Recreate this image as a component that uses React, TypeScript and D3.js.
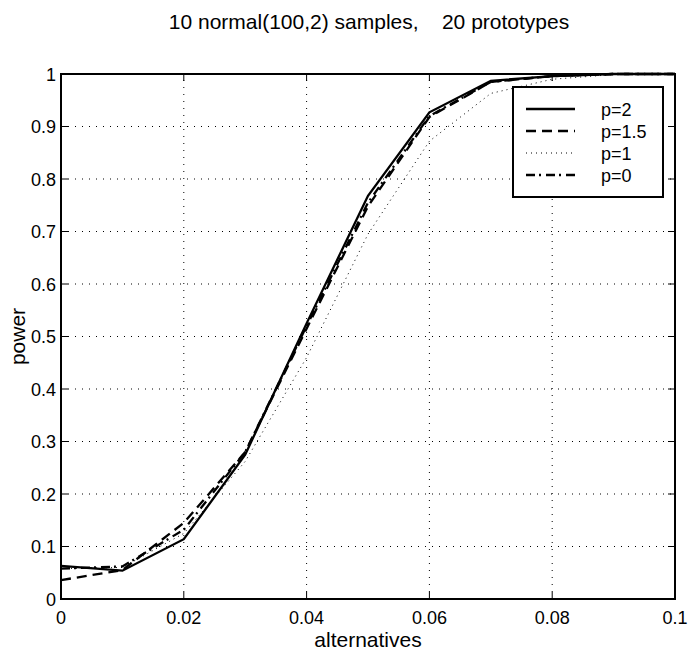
import React from "react";
import * as d3 from "d3";

const xs = [0, 0.01, 0.02, 0.03, 0.04, 0.05, 0.06, 0.07, 0.08, 0.09, 0.1];
const p2 = [0.063, 0.054, 0.114, 0.275, 0.525, 0.768, 0.927, 0.987, 0.996, 1.0, 1.0];
const p15 = [0.036, 0.055, 0.145, 0.28, 0.515, 0.748, 0.918, 0.985, 0.996, 1.0, 1.0];
const p1 = [0.058, 0.06, 0.125, 0.262, 0.46, 0.695, 0.872, 0.963, 0.99, 0.999, 1.0];
const p0 = [0.058, 0.062, 0.132, 0.28, 0.52, 0.755, 0.92, 0.985, 0.996, 1.0, 1.0];
const xTicks = [0, 0.02, 0.04, 0.06, 0.08, 0.1];
const xTickLabels = ["0", "0.02", "0.04", "0.06", "0.08", "0.1"];
const yTicks = [0, 0.1, 0.2, 0.3, 0.4, 0.5, 0.6, 0.7, 0.8, 0.9, 1];
const yTickLabels = ["0", "0.1", "0.2", "0.3", "0.4", "0.5", "0.6", "0.7", "0.8", "0.9", "1"];
const seriesNames = ["p=2", "p=1.5", "p=1", "p=0"];

const W = 691, H = 656;
const L = 61, R = 675, T = 74, B = 599;
const font = "Liberation Sans, Arial, Helvetica, sans-serif";

export default function App() {
  const x = d3.scaleLinear().domain([0, 0.1]).range([L, R]);
  const y = d3.scaleLinear().domain([0, 1]).range([B, T]);
  const line = d3.line<number>().x((_, i) => x(xs[i])).y((d) => y(d));
  const styles = [
    { w: 2.3, dash: "" },
    { w: 2.3, dash: "10,6" },
    { w: 1, dash: "1,4" },
    { w: 2.3, dash: "9,4,2,5" },
  ];
  const data = [p2, p15, p1, p0];
  const lgL = 513, lgT = 87, lgR = 663, lgB = 197;
  return (
    <svg width={W} height={H} style={{ position: "absolute", left: 0, top: 0, background: "#fff" }} fontFamily={font}>
      <rect x={0} y={0} width={W} height={H} fill="#fff" />
      {/* grid */}
      {xTicks.slice(1, -1).map((t) => (
        <line key={"gx" + t} x1={x(t)} x2={x(t)} y1={B} y2={T} stroke="#000" strokeWidth={1} strokeDasharray="1,6" />
      ))}
      {yTicks.slice(1, -1).map((t) => (
        <line key={"gy" + t} x1={L} x2={R} y1={y(t)} y2={y(t)} stroke="#000" strokeWidth={1} strokeDasharray="1,6" />
      ))}
      {/* ticks */}
      {xTicks.map((t) => (
        <g key={"tx" + t}>
          <line x1={x(t)} x2={x(t)} y1={B} y2={B - 7} stroke="#000" />
          <line x1={x(t)} x2={x(t)} y1={T} y2={T + 7} stroke="#000" />
        </g>
      ))}
      {yTicks.map((t) => (
        <g key={"ty" + t}>
          <line x1={L} x2={L + 7} y1={y(t)} y2={y(t)} stroke="#000" />
          <line x1={R} x2={R - 7} y1={y(t)} y2={y(t)} stroke="#000" />
        </g>
      ))}
      {/* series */}
      {data.map((d, i) => (
        <path key={i} d={line(d) || ""} fill="none" stroke="#000" strokeWidth={styles[i].w} strokeDasharray={styles[i].dash} strokeLinejoin="miter" />
      ))}
      {/* frame */}
      <rect x={L} y={T} width={R - L} height={B - T} fill="none" stroke="#000" strokeWidth={2} />
      {/* tick labels */}
      {xTicks.map((t, i) => (
        <text key={"lx" + t} x={x(t)} y={B + 25} fontSize={18} textAnchor="middle">{xTickLabels[i]}</text>
      ))}
      {yTicks.map((t, i) => (
        <text key={"ly" + t} x={L - 5} y={y(t) + 6.5} fontSize={18} textAnchor="end">{yTickLabels[i]}</text>
      ))}
      {/* labels */}
      <text x={(L + R) / 2} y={647} fontSize={21} textAnchor="middle">alternatives</text>
      <text transform={`translate(25,${(T + B) / 2}) rotate(-90)`} fontSize={21} textAnchor="middle">power</text>
      <text x={(L + R) / 2 + 1} y={29} fontSize={21} textAnchor="middle" style={{ whiteSpace: "pre" }} xmlSpace="preserve">10 normal(100,2) samples,    20 prototypes</text>
      {/* legend */}
      <rect x={lgL} y={lgT} width={lgR - lgL} height={lgB - lgT} fill="#fff" stroke="#000" strokeWidth={2} />
      {seriesNames.map((n, i) => {
        const yy = lgT + 22 + i * 22;
        return (
          <g key={n}>
            <line x1={lgL + 13} x2={lgL + 62} y1={yy} y2={yy} stroke="#000" strokeWidth={styles[i].w} strokeDasharray={styles[i].dash} />
            <text x={lgL + 88} y={yy + 6.5} fontSize={18}>{n}</text>
          </g>
        );
      })}
    </svg>
  );
}
